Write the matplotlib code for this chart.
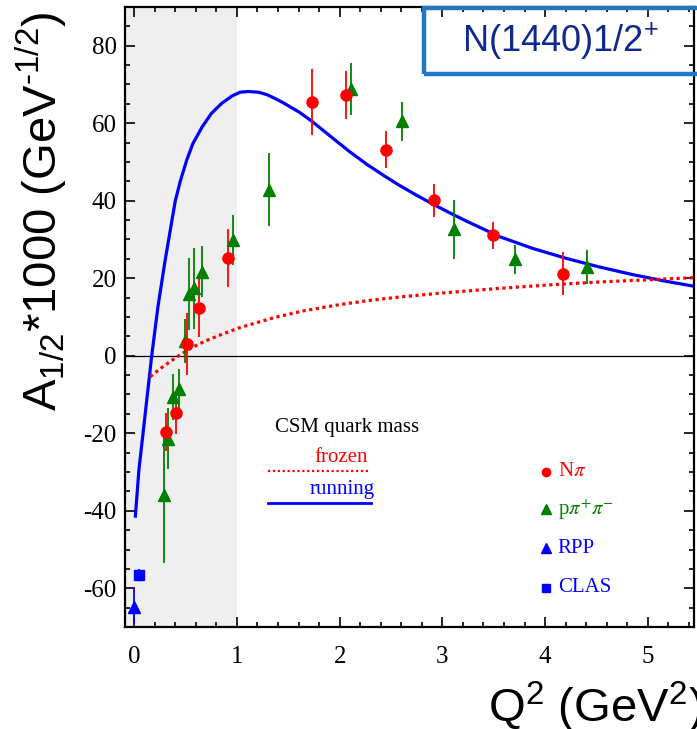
import matplotlib
matplotlib.use("Agg")
import matplotlib.pyplot as plt
from matplotlib.ticker import MultipleLocator
from matplotlib.patches import Rectangle
from matplotlib.lines import Line2D

plt.rcParams["axes.unicode_minus"] = False

# Helicity amplitude A1/2 of the Roper resonance vs photon virtuality Q^2
# N pi channel
npi_q2 = [0.31, 0.41, 0.51, 0.63, 0.91, 1.73, 2.06, 2.45, 2.92, 3.49, 4.17]
npi_a12 = [-19.7, -14.7, 3.0, 12.4, 25.3, 65.5, 67.4, 53.2, 40.1, 31.1, 21.2]
npi_err = [4.8, 5.6, 8.0, 7.6, 7.5, 8.5, 6.2, 4.8, 4.2, 3.5, 5.6]

# p pi+ pi- channel
ppp_q2 = [0.285, 0.33, 0.38, 0.44, 0.49, 0.535, 0.585, 0.66, 0.96, 1.31,
          2.11, 2.61, 3.11, 3.71, 4.41]
ppp_a12 = [-36.0, -21.4, -10.6, -8.6, 3.9, 16.0, 17.4, 21.7, 29.8, 42.9,
           68.9, 60.5, 32.6, 24.9, 22.9]
ppp_err = [17.5, 7.8, 5.9, 5.2, 5.7, 9.3, 10.5, 6.5, 6.4, 9.3,
           6.7, 5.0, 7.6, 3.7, 4.4]

# photon point
rpp_q2 = [0.0]
rpp_a12 = [-64.8]
rpp_err = [4.5]

clas_q2 = [0.05]
clas_a12 = [-56.5]
clas_err = [1.5]

# CSM predictions
running_q2 = [0.01, 0.045, 0.10, 0.17, 0.23, 0.30, 0.35, 0.40, 0.45, 0.51,
              0.57, 0.66, 0.75, 0.85, 0.95, 1.03, 1.11, 1.21, 1.29, 1.37,
              1.45, 1.61, 1.73, 1.94, 2.10, 2.27, 2.43, 2.58, 2.75, 2.91,
              3.07, 3.23, 3.56, 3.88, 4.21, 4.53, 4.86, 5.18, 5.48]
running_a12 = [-41.8, -29.6, -16.6, 0.0, 12.5, 24.5, 32.3, 40.0, 45.2, 50.4,
               54.7, 59.0, 62.5, 65.1, 67.0, 68.0, 68.2, 68.0, 67.4, 66.4,
               65.3, 62.8, 60.5, 56.0, 52.6, 49.3, 46.5, 44.0, 41.4, 39.1,
               36.9, 34.8, 30.7, 27.7, 25.1, 22.9, 20.9, 19.2, 17.8]

frozen_q2 = [0.156, 0.25, 0.35, 0.45, 0.56, 0.7, 0.85, 1.01, 1.2, 1.37,
             1.65, 2.0, 2.3, 2.6, 3.0, 3.56, 4.05, 4.5, 5.0, 5.48]
frozen_a12 = [-5.4, -3.4, -1.5, 0.3, 2.1, 3.9, 5.5, 7.1, 8.6, 9.9,
              11.6, 13.2, 14.3, 15.2, 16.2, 17.4, 18.3, 19.0, 19.6, 20.2]

xticks = [0, 1, 2, 3, 4, 5]
yticks = [-60, -40, -20, 0, 20, 40, 60, 80]

RED = "#ff0000"
GREEN = "#008000"
BLUE = "#0000ff"
SERIF = "Liberation Serif"
SANS = "Liberation Sans"

W, H = 697, 729
fig = plt.figure(figsize=(W / 100, H / 100), dpi=100)
ax = fig.add_axes([125 / W, 1 - 627 / H, 569 / W, 620 / H])

ax.set_xlim(-0.09, 5.45)
ax.set_ylim(-70, 90)

# low-Q2 region
ax.axvspan(-0.09, 1.0, color="#efefef", lw=0, zorder=0)
ax.axhline(0, color="black", lw=0.9, zorder=1)

ax.plot(running_q2, running_a12, color=BLUE, lw=2.3, zorder=2,
        solid_joinstyle="round", solid_capstyle="butt")
ax.plot(frozen_q2, frozen_a12, color=RED, lw=2.3, ls=(0, (1, 1.1)), zorder=2)

ebkw = dict(ls="none", elinewidth=1.3, capsize=0, zorder=3)
ax.errorbar(ppp_q2, ppp_a12, yerr=ppp_err, fmt="^", color=GREEN, ms=8.5,
            mec=GREEN, **ebkw)
ax.errorbar(npi_q2, npi_a12, yerr=npi_err, fmt="o", color=RED, ms=8,
            mec=RED, **ebkw)
ax.errorbar(rpp_q2, rpp_a12, yerr=rpp_err, fmt="^", color=BLUE, ms=8.5,
            **ebkw)
ax.errorbar(clas_q2, clas_a12, yerr=clas_err, fmt="s", color=BLUE, ms=7,
            **ebkw)

# axes styling
ax.set_xticks(xticks)
ax.set_yticks(yticks)
ax.xaxis.set_minor_locator(MultipleLocator(0.2))
ax.yaxis.set_minor_locator(MultipleLocator(5))
ax.tick_params(which="both", direction="in", top=True, right=True,
               width=1.2, colors="black")
ax.tick_params(which="major", length=7.5)
ax.tick_params(which="minor", length=3.8)
ax.tick_params(axis="x", pad=14)
ax.tick_params(axis="y", pad=6)
for lab in ax.get_xticklabels() + ax.get_yticklabels():
    lab.set_fontfamily(SERIF)
    lab.set_fontsize(18)
for sp in ax.spines.values():
    sp.set_linewidth(1.6)

# axis titles
fig.text(41 / W, 1 - 211 / H,
         "A$_{\\mathregular{1/2}}$*1000 (GeV$^{\\mathregular{\u2010 1/2}}$)",
         rotation=90, ha="center", va="center", fontsize=34, family=SANS)
fig.text(488 / W, 1 - 722 / H, r"Q$^{\mathregular{2}}$ (GeV$^{\mathregular{2}}$)",
         ha="left", va="baseline", fontsize=34, family=SANS)

# state label
fig.add_artist(Rectangle((424 / W, 1 - 74 / H), 300 / W, 66 / H,
                         transform=fig.transFigure, fill=False,
                         edgecolor="#1f78c1", lw=3.2))
fig.text(462 / W, 1 - 41 / H, r"N(1440)1/2$^{\mathregular{+}}$", ha="left",
         va="center", fontsize=26, family=SANS, color="#0f2a8c")


# curve legend
def axfrac(px, py):
    return ((px - 125) / 569, (627 - py) / 620)


tx, ty = axfrac(275, 428)
ax.text(tx, ty, "CSM quark mass", transform=ax.transAxes, ha="left",
        va="center", fontsize=15, family=SERIF, color="black")
tx, ty = axfrac(368, 458)
ax.text(tx, ty, "frozen", transform=ax.transAxes, ha="right", va="center",
        fontsize=15, family=SERIF, color=RED)
tx, ty = axfrac(375, 490)
ax.text(tx, ty, "running", transform=ax.transAxes, ha="right", va="center",
        fontsize=15, family=SERIF, color=BLUE)
x0, yl = axfrac(268, 471)
x1, _ = axfrac(369, 471)
ax.add_line(Line2D([x0, x1], [yl, yl], transform=ax.transAxes, color=RED,
                   lw=1.6, ls=(0, (1, 1.2))))
x0, yl = axfrac(268, 503)
x1, _ = axfrac(371, 503)
ax.add_line(Line2D([x0, x1], [yl, yl], transform=ax.transAxes, color=BLUE,
                   lw=2.0))

# data legend
entries = [("o", RED, r"N$\pi$", 471.7, 6),
           ("^", GREEN, r"p$\pi^{+}\pi^{-}$", 509.3, 6.5),
           ("^", BLUE, "RPP", 548.3, 6.5),
           ("s", BLUE, "CLAS", 587.7, 5.5)]
for mk, col, label, py, ms in entries:
    mx, my = axfrac(545.7, py)
    ax.plot([mx], [my], marker=mk, color=col, ms=ms, ls="none",
            transform=ax.transAxes, clip_on=False)
    lx, _ = axfrac(557.7, py)
    ax.text(lx, my, label, transform=ax.transAxes, ha="left",
            va="center", fontsize=15, family=SERIF, color=col,
            math_fontfamily="stix")

fig.savefig("out.png", dpi=100)
